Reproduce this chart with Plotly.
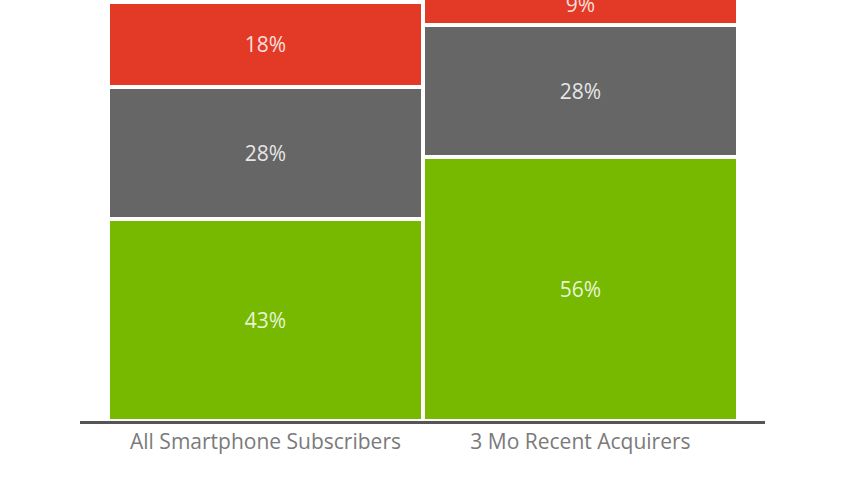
import plotly.graph_objects as go

categories = ["All Smartphone Subscribers", "3 Mo Recent Acquirers"]
android = [43, 56]
iphone = [28, 28]
blackberry = [18, 9]

series = [
    ("Android OS", android, "#76b900"),
    ("Apple iPhone", iphone, "#666666"),
    ("RIM Blackberry", blackberry, "#e23a26"),
]

fig = go.Figure()

for name, vals, color in series:
    fig.add_trace(go.Bar(
        x=categories,
        y=vals,
        name=name,
        width=1.0,
        marker=dict(color=color, line=dict(color="white", width=4)),
        text=[f"{v}%" for v in vals],
        textposition="inside",
        insidetextanchor="middle",
        textangle=0,
        textfont=dict(family="Open Sans", size=21, color="rgba(255,255,255,0.85)"),
        cliponaxis=True,
    ))

fig.update_layout(
    barmode="stack",
    width=860,
    height=480,
    margin=dict(l=80, r=95, t=0, b=59),
    paper_bgcolor="white",
    plot_bgcolor="white",
    showlegend=False,
    xaxis=dict(
        range=[-0.589, 1.586],
        showline=True,
        linecolor="#555555",
        linewidth=3,
        showgrid=False,
        ticks="",
        ticklabelstandoff=0,
        tickfont=dict(family="Open Sans", size=21, color="#7a7a7a"),
    ),
    yaxis=dict(
        range=[0, 89.4],
        visible=False,
        showgrid=False,
        zeroline=False,
    ),
)

# drop the browser's default body margin so the chart sits at the window edge
fig.write_html(
    "out.html",
    config={"displayModeBar": False},
    post_script="document.body.style.margin='0';",
)
